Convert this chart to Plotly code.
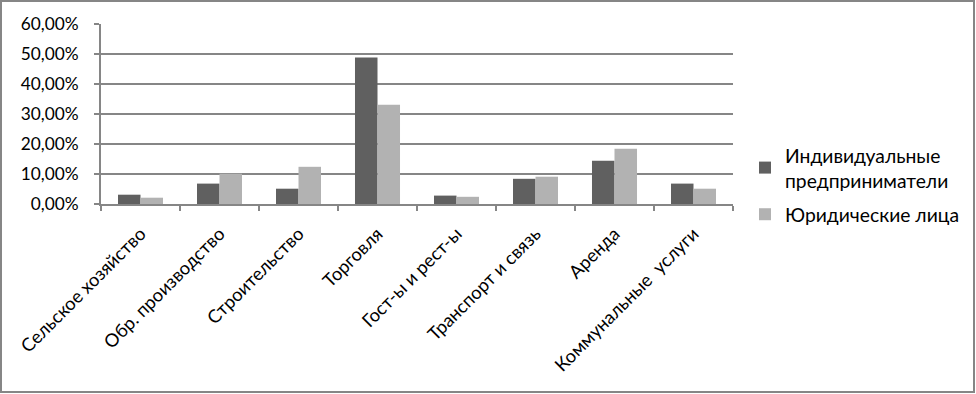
import plotly.graph_objects as go

categories = ["Сельское хозяйство", "Обр. производство", "Строительство", "Торговля",
              "Гост-ы и рест-ы", "Транспорт и связь", "Аренда", "Коммунальные  услуги"]
ip_values = [0.031, 0.068, 0.051, 0.488, 0.028, 0.084, 0.144, 0.068]
ul_values = [0.021, 0.101, 0.124, 0.331, 0.024, 0.091, 0.184, 0.051]
series_names = ["Индивидуальные<br>предприниматели", "Юридические лица"]
y_ticks = [0, 0.1, 0.2, 0.3, 0.4, 0.5, 0.6]

W, H = 976, 394
L, R, T, B = 101, 243, 24, 190
pw, ph = W - L - R, H - T - B

fig = go.Figure()
fig.add_trace(go.Bar(x=categories, y=ip_values, name=series_names[0], legendgroup="ip",
                     marker=dict(color="#606060", line=dict(width=0))))
fig.add_trace(go.Bar(x=categories, y=ul_values, name=series_names[1], legendgroup="ul",
                     marker=dict(color="#b2b2b2", line=dict(width=0))))

font = "Lato, 'Open Sans', sans-serif"
fig.update_layout(
    width=W, height=H,
    margin=dict(l=L, r=R, t=T, b=B),
    paper_bgcolor="white", plot_bgcolor="white",
    separators=", ",
    barmode="group", bargap=0.43, bargroupgap=0,
    font=dict(family=font, size=17, color="#000000"),
    showlegend=True,
    legend=dict(x=(745 - L) / pw, y=(H - 136 - B) / ph, xanchor="left", yanchor="top",
                font=dict(size=19.3, family=font), tracegroupgap=6,
                bgcolor="rgba(0,0,0,0)"),
    xaxis=dict(type="category", tickangle=-45, showgrid=False,
               showline=True, linecolor="#868686", linewidth=2,
               ticks="outside", tickson="boundaries", ticklen=5, tickwidth=2, tickcolor="#868686",
               ticklabelstandoff=10,
               tickfont=dict(size=18.3, family=font)),
    yaxis=dict(range=[0, 0.6], tickvals=y_ticks, tickformat=".2%",
               showgrid=True, gridcolor="#868686", gridwidth=2,
               showline=True, linecolor="#868686", linewidth=2,
               ticks="outside", ticklen=5, tickwidth=2, tickcolor="#868686",
               ticklabelstandoff=12,
               zeroline=False, tickfont=dict(size=17.3, family=font)),
)

fig.add_shape(type="rect", xref="paper", yref="paper",
              x0=(1 - L) / pw, x1=(W - 2 - L) / pw,
              y0=-(H - 2 - T - ph) / ph, y1=1 + (T - 1) / ph,
              line=dict(color="#868686", width=2), fillcolor="rgba(0,0,0,0)", layer="below")

fig.write_html("out.html", config={"displayModeBar": False},
               post_script="document.body.style.margin='0';document.body.style.overflow='hidden';")
